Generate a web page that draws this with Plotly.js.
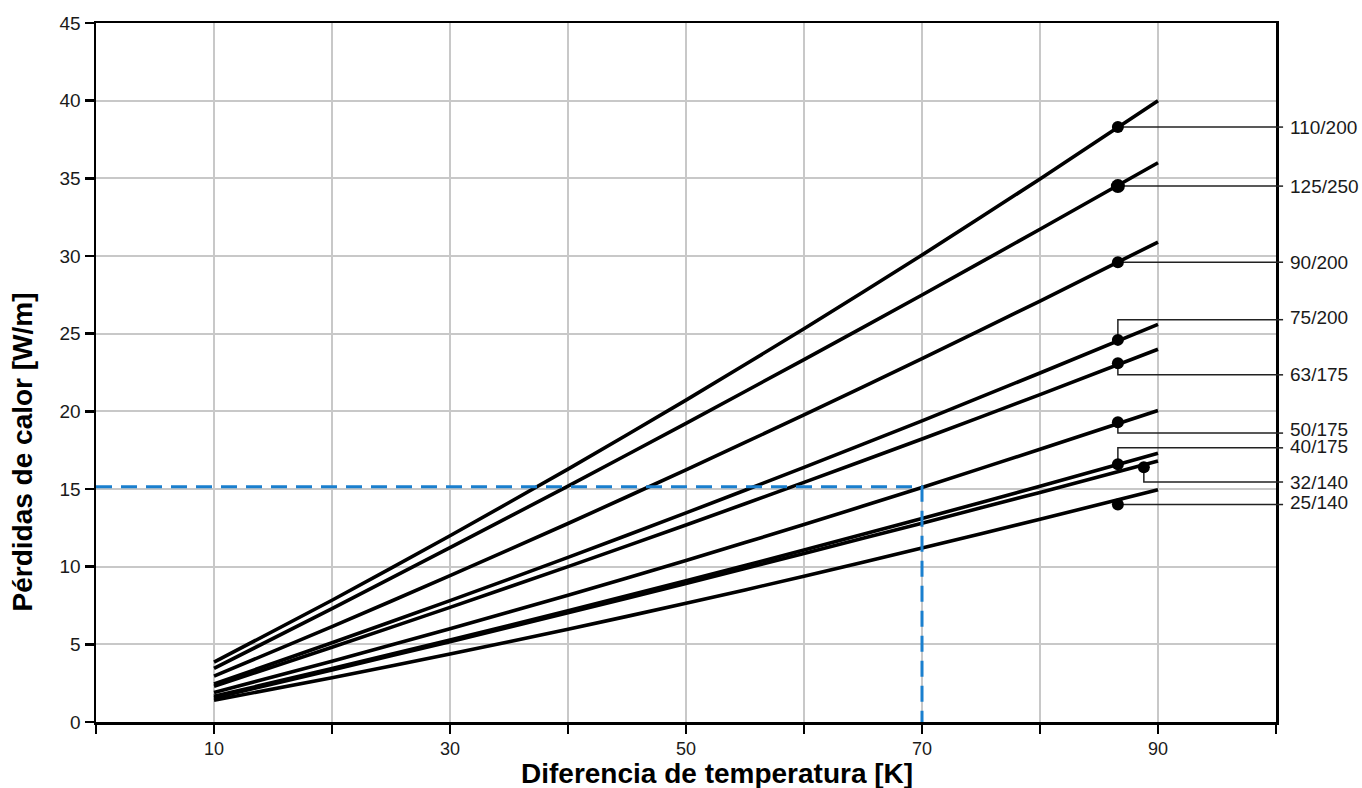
<!DOCTYPE html>
<html>
<head>
<meta charset="utf-8">
<script src="https://cdn.plot.ly/plotly-3.0.1.min.js"></script>
<style>html,body{margin:0;padding:0;background:#fff;}#chart{width:1362px;height:788px;}</style>
</head>
<body>
<div id="chart"></div>
<script>
// ---- data ----
const deltaT = [10, 20, 30, 40, 50, 60, 70, 80, 90];
const seriesNames = ["110/200", "125/250", "90/200", "75/200", "63/175", "50/175", "40/175", "32/140", "25/140"];
const s110_200 = [3.85, 7.84, 11.99, 16.28, 20.72, 25.32, 30.06, 34.96, 40.0];
const s125_250 = [3.45, 7.30, 11.22, 15.19, 19.23, 23.33, 27.49, 31.72, 36.0];
const s90_200  = [2.95, 6.14, 9.42, 12.78, 16.23, 19.77, 23.39, 27.10, 30.9];
const s75_200  = [2.45, 5.10, 7.81, 10.60, 13.46, 16.39, 19.39, 22.47, 25.6];
const s63_175  = [2.30, 4.81, 7.38, 10.00, 12.68, 15.43, 18.22, 21.08, 24.0];
const s50_175  = [1.90, 3.91, 6.00, 8.16, 10.40, 12.71, 15.10, 17.56, 20.05];
const s40_175  = [1.65, 3.44, 5.28, 7.16, 9.09, 11.07, 13.10, 15.17, 17.3];
const s32_140  = [1.55, 3.35, 5.17, 7.03, 8.92, 10.85, 12.80, 14.78, 16.8];
const s25_140  = [1.40, 2.85, 4.38, 5.97, 7.64, 9.38, 11.20, 13.05, 14.95];
const seriesValues = [s110_200, s125_250, s90_200, s75_200, s63_175, s50_175, s40_175, s32_140, s25_140];

// label markers on the curves and label heights
const markerX = [86.6, 86.6, 86.6, 86.6, 86.6, 86.6, 86.6, 88.8, 86.6];
const markerY = [38.3, 34.5, 29.6, 24.6, 23.1, 19.3, 16.6, 16.4, 14.0];
const labelY  = [38.3, 34.5, 29.6, 25.9, 22.35, 18.6, 17.65, 15.45, 14.0];
const labelTextY = [38.3, 34.5, 29.6, 26.05, 22.35, 18.85, 17.75, 15.4, 14.1];

// reading example (blue dashed)
const exampleDT = 70;
const exampleLoss = 15.15;

const xTickVals = [0, 10, 20, 30, 40, 50, 60, 70, 80, 90, 100];
const xTickText = ["", "10", "", "30", "", "50", "", "70", "", "90", ""];
const yTickVals = [0, 5, 10, 15, 20, 25, 30, 35, 40, 45];

// ---- traces ----
const xRange = [0, 100];
const FONT = "Liberation Sans, Arial, sans-serif";
const traces = [];
seriesNames.forEach((n, i) => {
  traces.push({
    x: deltaT, y: seriesValues[i], type: "scatter", mode: "lines",
    line: {color: "#000", width: 3.6, shape: "spline", smoothing: 0.6},
    hoverinfo: "skip", showlegend: false
  });
});
// leader lines (inside plot)
seriesNames.forEach((n, i) => {
  traces.push({
    x: [markerX[i], markerX[i], xRange[1]],
    y: [markerY[i], labelY[i], labelY[i]],
    type: "scatter", mode: "lines",
    line: {color: "#222", width: 1.5},
    hoverinfo: "skip", showlegend: false
  });
});
// markers
traces.push({
  x: markerX, y: markerY, type: "scatter", mode: "markers",
  marker: {color: "#000", opacity: 1, line: {width: 0},
           size: seriesNames.map(n => n === "125/250" ? 14 : 12)},
  hoverinfo: "skip", showlegend: false
});
// dashed example lines
traces.push({
  x: [xRange[0], exampleDT, exampleDT], y: [exampleLoss, exampleLoss, 0],
  type: "scatter", mode: "lines",
  line: {color: "#1a7fce", width: 3, dash: "16px,9px"},
  hoverinfo: "skip", showlegend: false
});

const shapes = [];
const annotations = [];
seriesNames.forEach((n, i) => {
  shapes.push({type: "line", xref: "paper", yref: "y", x0: 1, x1: 1.006, y0: labelY[i], y1: labelY[i],
    line: {color: "#222", width: 1.5}});
  annotations.push({xref: "paper", yref: "y", x: 1.0105, y: labelTextY[i], text: n, showarrow: false,
    xanchor: "left", yanchor: "middle", font: {family: FONT, size: 19, color: "#1a1a1a"}});
});
annotations.push({xref: "paper", yref: "paper", x: 0.5265, y: -0.049, yanchor: "top", xanchor: "center",
  text: "<b>Diferencia de temperatura [K]</b>", showarrow: false,
  font: {family: FONT, size: 28, color: "#000"}});
annotations.push({xref: "paper", yref: "paper", x: -0.0625, y: 0.386, xanchor: "center", yanchor: "middle",
  text: "<b>Pérdidas de calor [W/m]</b>", showarrow: false, textangle: -90,
  font: {family: FONT, size: 28, color: "#000"}});

const layout = {
  width: 1362, height: 788,
  margin: {l: 96, r: 86, t: 23, b: 66},
  paper_bgcolor: "#fff", plot_bgcolor: "#fff",
  showlegend: false,
  font: {family: FONT, size: 18, color: "#1a1a1a"},
  xaxis: {
    range: xRange, tickvals: xTickVals, ticktext: xTickText,
    showgrid: true, gridcolor: "#c8c8c8", gridwidth: 2,
    showline: true, linecolor: "#000", linewidth: 2.5, mirror: true,
    ticks: "outside", ticklen: 9, tickwidth: 2.5, tickcolor: "#000",
    zeroline: false, tickfont: {size: 18, family: FONT, color: "#1a1a1a"},
    fixedrange: true
  },
  yaxis: {
    range: [0, 45], tickvals: yTickVals,
    showgrid: true, gridcolor: "#c8c8c8", gridwidth: 2,
    showline: true, linecolor: "#000", linewidth: 2.5, mirror: true,
    ticks: "outside", ticklen: 9, tickwidth: 2.5, tickcolor: "#000",
    zeroline: false, tickfont: {size: 19, family: FONT, color: "#1a1a1a"},
    fixedrange: true
  },
  shapes: shapes,
  annotations: annotations
};

Plotly.newPlot("chart", traces, layout, {displayModeBar: false, staticPlot: true});
</script>
</body>
</html>
